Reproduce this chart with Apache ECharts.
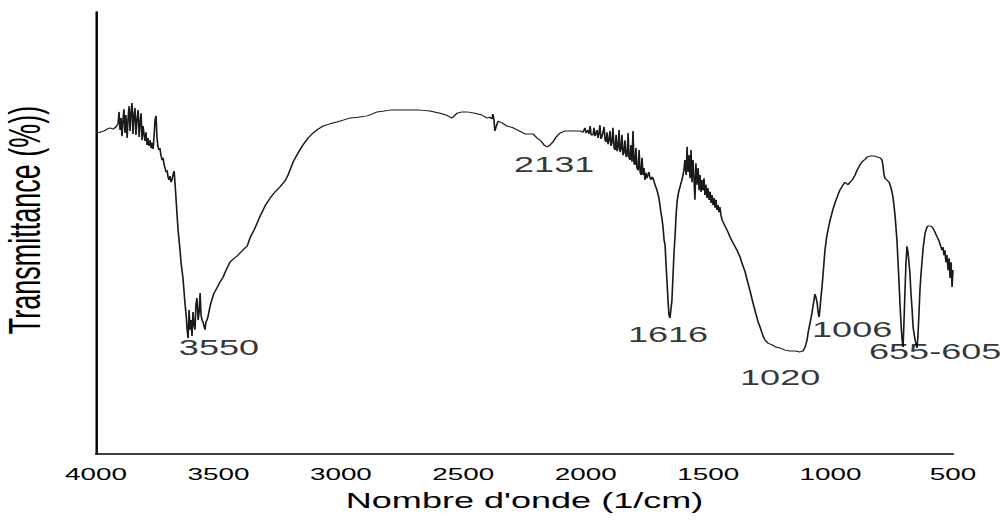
<!DOCTYPE html>
<html>
<head>
<meta charset="utf-8">
<script src="https://cdn.jsdelivr.net/npm/echarts@6/dist/echarts.min.js"></script>
<style>
html,body{margin:0;padding:0;background:#fff;overflow:hidden;width:1003px;height:521px}
#chart{width:612px;height:521px;transform:scaleX(1.63889);transform-origin:0 0;}
</style>
</head>
<body>
<div id="chart"></div>
<script>
// Wavenumbers (1/cm) and transmittance (%)
const wavenumbers = [
4000,3984,3967,3955,3943,3931,3918,3910,3906,3902,
3898,3894,3890,3886,3882,3878,3873,3869,3865,3861,
3857,3853,3849,3845,3841,3837,3833,3828,3824,3820,
3816,3812,3808,3804,3800,3796,3792,3788,3784,3779,
3775,3771,3767,3763,3759,3755,3751,3747,3743,3739,
3735,3730,3726,3722,3718,3714,3710,3706,3702,3698,
3694,3690,3686,3681,3677,3673,3669,3665,3661,3657,
3653,3649,3645,3641,3637,3632,3628,3624,3620,3616,
3612,3608,3604,3600,3596,3592,3588,3583,3579,3575,
3571,3567,3563,3559,3555,3551,3547,3543,3539,3534,
3526,3518,3506,3494,3481,3469,3453,3436,3424,3412,
3396,3383,3371,3351,3330,3310,3289,3269,3249,3228,
3216,3195,3175,3155,3134,3114,3093,3073,3044,3016,
2987,2963,2930,2893,2873,2852,2824,2799,2758,2718,
2677,2636,2595,2571,2546,2526,2505,2485,2452,2424,
2403,2391,2383,2379,2375,2371,2366,2358,2342,2321,
2297,2272,2248,2228,2215,2199,2183,2170,2158,2146,
2134,2121,2105,2085,2064,2044,2023,2011,
2003,1999,1991,1987,1982,1978,1970,1966,1962,1954,
1950,1946,1942,1938,1933,1925,1921,1917,1913,1909,
1905,1901,1897,1893,1889,1884,1880,1876,1872,1868,
1864,1860,1856,1852,1848,1844,1840,1835,1831,1827,
1823,1819,1815,1811,1807,1803,1799,1795,1791,1786,
1782,1778,1774,1770,1766,1762,1758,1754,1750,1746,
1742,1737,1733,1729,1725,
1717,1709,1701,1697,1693,1689,1684,1680,1676,1672,
1668,1664,1660,1656,1652,1648,1644,1639,1635,1631,
1627,1623,1619,1615,1611,1607,1603,1599,1595,1590,
1586,1582,1578,1574,1570,1566,1562,1558,1554,1550,
1546,1541,1537,1533,1529,1525,1521,1517,1513,1509,
1505,1501,1496,1492,1488,1484,1480,1476,1472,1468,
1464,1460,1456,1452,1448,1443,
1435,1427,1419,1411,1398,1382,1370,1362,1349,1341,
1329,1317,1305,1296,1288,1276,1268,1256,1239,1223,
1207,1186,1166,1145,1125,1113,1104,1096,1092,1084,
1076,1068,1064,1060,1055,1051,1047,1043,1039,1035,
1031,1023,1015,1002,990,982,970,962,949,941,
933,929,921,912,900,892,880,872,859,851,
839,819,810,798,790,786,782,778,770,761,
753,745,737,729,721,716,712,708,704,700,
696,692,688,684,680,676,672,667,663,655,
647,643,639,635,631,627,622,614,606,602,
594,586,578,565,557,545,541,537,533,529,
525,520,516,512,508,504,500
];
const transmittance = [
72.6,72.8,73.1,73.5,73.8,73.5,74.0,74.7,77.4,73.3,
76.0,71.9,75.6,78.0,72.6,76.7,71.5,76.0,78.7,73.1,
77.4,79.4,72.4,76.5,78.3,72.2,75.6,77.8,71.7,75.1,
77.1,71.0,74.2,72.4,70.8,72.8,69.9,71.5,69.7,71.0,
69.2,70.4,69.0,71.9,75.6,76.5,71.5,69.5,68.8,69.2,
67.6,66.5,67.0,65.4,64.7,63.8,64.2,62.7,62.0,62.9,
61.5,62.0,63.1,64.0,60.9,57.5,54.1,50.7,48.4,46.1,
43.4,41.6,39.8,37.1,34.2,31.4,28.1,26.2,32.6,28.1,
30.3,26.7,32.1,29.2,28.1,33.7,35.3,30.3,32.1,36.4,
31.4,30.3,29.9,29.0,28.1,29.9,30.3,31.0,32.1,33.5,
35.1,36.4,37.6,38.9,40.0,41.6,43.4,44.3,44.8,45.5,
46.4,47.0,48.9,51.1,53.8,56.1,57.9,59.3,60.4,61.8,
63.1,66.1,68.1,69.9,71.5,72.6,73.5,74.2,74.7,75.1,
75.6,76.0,76.2,76.5,76.9,77.4,77.6,77.8,77.8,77.8,
77.8,77.6,77.1,76.7,76.0,77.1,77.4,77.4,77.1,76.7,
76.0,76.2,75.8,76.9,75.6,73.1,74.0,75.3,74.9,74.2,
73.8,73.1,72.4,72.4,72.4,71.5,70.8,69.9,69.5,69.9,
70.6,71.7,72.6,73.1,73.1,73.1,73.1,72.8,
73.8,72.6,73.3,72.4,74.2,72.2,72.2,73.8,71.9,73.3,
71.5,72.6,74.4,71.3,71.9,74.0,71.0,70.6,72.8,70.1,
71.0,73.1,69.7,70.4,73.8,69.2,68.8,72.2,68.5,69.2,
73.3,68.3,69.0,72.2,67.6,68.1,71.0,67.2,67.4,72.6,
67.0,66.5,69.9,66.1,73.1,65.8,65.4,69.2,64.7,64.2,
68.8,63.8,63.1,67.0,63.1,64.7,62.0,63.6,62.4,63.1,
63.8,62.4,62.0,62.7,62.4,
60.9,59.7,57.9,56.3,54.7,53.4,51.1,48.4,47.3,42.8,
38.9,34.8,31.4,30.8,30.8,34.8,39.8,46.1,49.5,54.1,
57.0,58.6,59.7,60.4,61.3,62.0,63.1,64.2,66.5,63.1,
69.5,63.8,67.6,62.4,68.8,61.5,66.5,62.4,57.5,65.8,
60.9,64.7,59.7,63.1,59.3,62.0,59.7,62.4,58.6,60.9,
57.9,60.2,57.5,59.3,56.8,58.6,56.3,57.9,55.7,57.5,
55.2,56.3,54.7,55.9,54.1,52.9,
52.0,51.1,50.2,49.1,47.7,46.1,44.6,43.2,41.2,39.4,
36.9,34.2,31.7,29.9,28.7,26.7,25.8,25.1,24.7,24.2,
24.0,23.5,23.3,23.3,23.1,23.3,24.2,25.8,27.4,29.6,
31.9,34.8,36.2,35.5,34.2,32.1,31.0,33.0,35.7,37.8,
40.5,46.1,49.5,52.9,55.4,56.8,58.6,59.7,60.9,61.5,
61.1,60.9,61.5,62.0,63.1,64.2,65.4,66.1,66.7,67.2,
67.4,67.4,67.2,67.0,66.5,65.2,63.3,62.4,62.0,61.5,
60.2,58.1,54.1,48.4,39.4,33.3,29.2,25.8,24.2,30.3,
37.1,43.4,47.0,45.7,43.4,40.9,36.6,32.6,28.7,25.8,
24.0,26.9,31.9,37.1,40.5,43.2,46.6,50.0,51.4,51.6,
51.6,51.4,50.7,49.1,48.2,46.1,46.8,45.0,46.1,43.4,
45.0,41.6,44.3,39.8,43.4,37.8,41.6
];

// Peak annotations
const peakText = ['3550', '2131', '1616', '1020', '1006', '655-605'];
const peakWavenumbers = [3498, 2129, 1664, 1206, 912, 573];
const peakTransmittance = [24.2, 65.6, 27.1, 17.4, 28.3, 23.3];

const xTitle = "Nombre d'onde (1/cm)";
const yTitle = 'Transmittance (%))';

const spectrum = wavenumbers.map((w, i) => [w, transmittance[i]]);
const peaks = peakText.map((t, i) => ({ name: t, value: [peakWavenumbers[i], peakTransmittance[i]] }));

const chart = echarts.init(document.getElementById('chart'), null, { renderer: 'svg' });
const font = 'Liberation Sans, Arial, sans-serif';
chart.setOption({
  animation: false,
  backgroundColor: '#fff',
  textStyle: { fontFamily: font },
  grid: { left: 58.6, right: 30.5, top: 12, bottom: 67, containLabel: false, outerBoundsMode: 'none' },
  xAxis: {
    type: 'value', min: 500, max: 4000, interval: 500, inverse: true,
    axisLine: { show: true, lineStyle: { color: '#000', width: 1.5 } },
    axisTick: { show: false },
    splitLine: { show: false },
    axisLabel: { fontSize: 17, color: '#000', margin: 12, fontFamily: font, formatter: v => String(v) },
    name: xTitle, nameLocation: 'middle', nameGap: 35,
    nameTextStyle: { fontSize: 22, color: '#000', fontFamily: font }
  },
  yAxis: {
    type: 'value', min: 0, max: 100,
    axisLine: { show: true, lineStyle: { color: '#000', width: 1.5 } },
    axisTick: { show: false },
    axisLabel: { show: false },
    splitLine: { show: false },
    name: yTitle, nameLocation: 'middle', nameRotate: 90, nameGap: 30,
    nameTextStyle: { fontSize: 27, color: '#000', fontFamily: font, padding: [0, 0, 0, 26] }
  },
  series: [
    {
      type: 'line', data: spectrum, showSymbol: false, symbol: 'none',
      lineStyle: { color: '#1a1a1a', width: 1 }, z: 2
    },
    {
      type: 'scatter', data: peaks, symbolSize: 1,
      itemStyle: { color: 'rgba(0,0,0,0)' },
      label: { show: true, position: 'inside', formatter: p => p.name, fontSize: 22, color: '#000', fontFamily: font },
      z: 3
    }
  ]
});
</script>
</body>
</html>
